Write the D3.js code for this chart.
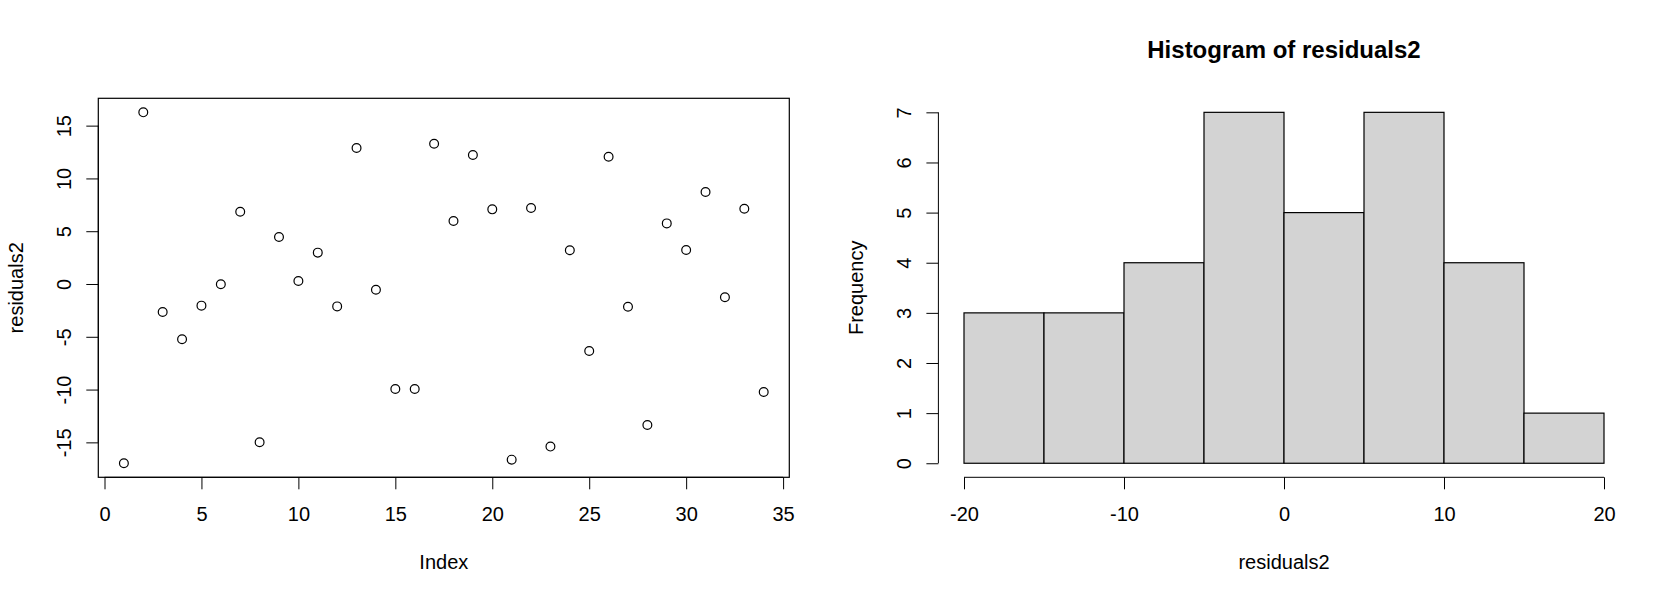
<!DOCTYPE html>
<html>
<head>
<meta charset="utf-8">
<script src="https://cdn.jsdelivr.net/npm/d3@7"></script>
<style>
  html, body { margin: 0; padding: 0; background: #fff; }
  svg { display: block; font-family: "Liberation Sans", Arial, Helvetica, sans-serif; }
  text { fill: #000; }
</style>
</head>
<body>
<svg id="chart" width="1680" height="600"></svg>
<script>
// ---- data ----
const residuals2 = [
  -16.98, 16.26, -2.65, -5.24, -2.05, -0.03, 6.85, -14.99, 4.45, 0.28,
  2.97, -2.12, 12.88, -0.54, -9.94, -9.94, 13.29, 5.97, 12.22, 7.07,
  -16.64, 7.20, -15.40, 3.19, -6.34, 12.06, -2.15, -13.35, 5.74, 3.22,
  8.71, -1.26, 7.13, -10.23
];
const histBreaks = [-20, -15, -10, -5, 0, 5, 10, 15, 20];
const histCounts = [3, 3, 4, 7, 5, 7, 4, 1];
const scatterXTicks = [0, 5, 10, 15, 20, 25, 30, 35];
const scatterYTicks = [-15, -10, -5, 0, 5, 10, 15];
const histXTicks = [-20, -10, 0, 10, 20];
const histYTicks = [0, 1, 2, 3, 4, 5, 6, 7];

(function () {
const svg = d3.select("#chart");
const FS = 20;
const pTop = 98.3, pBottom = 477.3;
const L1 = 98.3, R1 = 789.3;
const L2 = 938.4, R2 = 1629.6;
const TICK = 12;

function pad(ext) { const d = (ext[1] - ext[0]) * 0.04; return [ext[0] - d, ext[1] + d]; }
function lab(d) { return d < 0 ? "-" + Math.abs(d) : String(d); }

function styleAxis(g) {
  g.selectAll("path.domain").remove();
  g.selectAll("line").attr("stroke", "#000").attr("stroke-width", 1);
  g.selectAll("text").style("font-size", FS + "px").attr("fill", "#000")
    .style("font-family", '"Liberation Sans", Arial, sans-serif');
}

function bottomAxis(g, x, ticks, y0) {
  const ax = g.append("g").attr("transform", `translate(0,${y0})`)
    .call(d3.axisBottom(x).tickValues(ticks).tickSize(TICK).tickSizeOuter(0).tickFormat(lab));
  styleAxis(ax);
  ax.selectAll("text").attr("y", 43.6).attr("dy", 0);
  ax.append("line").attr("x1", x(ticks[0])).attr("x2", x(ticks[ticks.length - 1]))
    .attr("stroke", "#000").attr("stroke-width", 1);
}

function leftAxis(g, y, ticks, x0) {
  const ax = g.append("g").attr("transform", `translate(${x0},0)`)
    .call(d3.axisLeft(y).tickValues(ticks).tickSize(TICK).tickSizeOuter(0).tickFormat(lab));
  styleAxis(ax);
  ax.selectAll("text").attr("x", 0).attr("y", -27.8).attr("dy", 0)
    .attr("text-anchor", "middle").attr("transform", "rotate(-90)");
  ax.append("line").attr("y1", y(ticks[0])).attr("y2", y(ticks[ticks.length - 1]))
    .attr("stroke", "#000").attr("stroke-width", 1);
}

// ---- scatter ----
const idx = residuals2.map((v, i) => i + 1);
const xs = d3.scaleLinear().domain(pad(d3.extent(idx))).range([L1, R1]);
const ys = d3.scaleLinear().domain(pad(d3.extent(residuals2))).range([pBottom, pTop]);
const g1 = svg.append("g");

g1.selectAll("circle").data(residuals2).join("circle")
  .attr("cx", (d, i) => xs(i + 1)).attr("cy", d => ys(d)).attr("r", 4.4)
  .attr("fill", "none").attr("stroke", "#000").attr("stroke-width", 1.2);

g1.append("rect").attr("x", L1).attr("y", pTop).attr("width", R1 - L1).attr("height", pBottom - pTop)
  .attr("fill", "none").attr("stroke", "#000").attr("stroke-width", 1.2);

bottomAxis(g1, xs, scatterXTicks, pBottom);
leftAxis(g1, ys, scatterYTicks, L1);

g1.append("text").attr("x", (L1 + R1) / 2).attr("y", 569).attr("text-anchor", "middle")
  .style("font-size", FS + "px").text("Index");
g1.append("text").attr("transform", `translate(${L1 - 75},${(pTop + pBottom) / 2}) rotate(-90)`)
  .attr("text-anchor", "middle").style("font-size", FS + "px").text("residuals2");

// ---- histogram ----
const bins = histCounts.map((c, i) => ({ x0: histBreaks[i], x1: histBreaks[i + 1], n: c }));
const xh = d3.scaleLinear().domain(pad([histBreaks[0], histBreaks[histBreaks.length - 1]])).range([L2, R2]);
const yh = d3.scaleLinear().domain(pad([0, d3.max(histCounts)])).range([pBottom, pTop]);
const g2 = svg.append("g");

g2.selectAll("rect.bar").data(bins).join("rect").attr("class", "bar")
  .attr("x", d => xh(d.x0)).attr("width", d => xh(d.x1) - xh(d.x0))
  .attr("y", d => yh(d.n)).attr("height", d => yh(0) - yh(d.n))
  .attr("fill", "#d3d3d3").attr("stroke", "#000").attr("stroke-width", 1.2);

bottomAxis(g2, xh, histXTicks, pBottom);
leftAxis(g2, yh, histYTicks, L2);

g2.append("text").attr("x", (xh(-20) + xh(20)) / 2).attr("y", 569).attr("text-anchor", "middle")
  .style("font-size", FS + "px").text("residuals2");
g2.append("text").attr("transform", `translate(${L2 - 75},${(pTop + pBottom) / 2}) rotate(-90)`)
  .attr("text-anchor", "middle").style("font-size", FS + "px").text("Frequency");
g2.append("text").attr("x", (L2 + R2) / 2).attr("y", 58.3).attr("text-anchor", "middle")
  .style("font-size", "24px").style("font-weight", "bold").text("Histogram of residuals2");
})();
</script>
</body>
</html>
